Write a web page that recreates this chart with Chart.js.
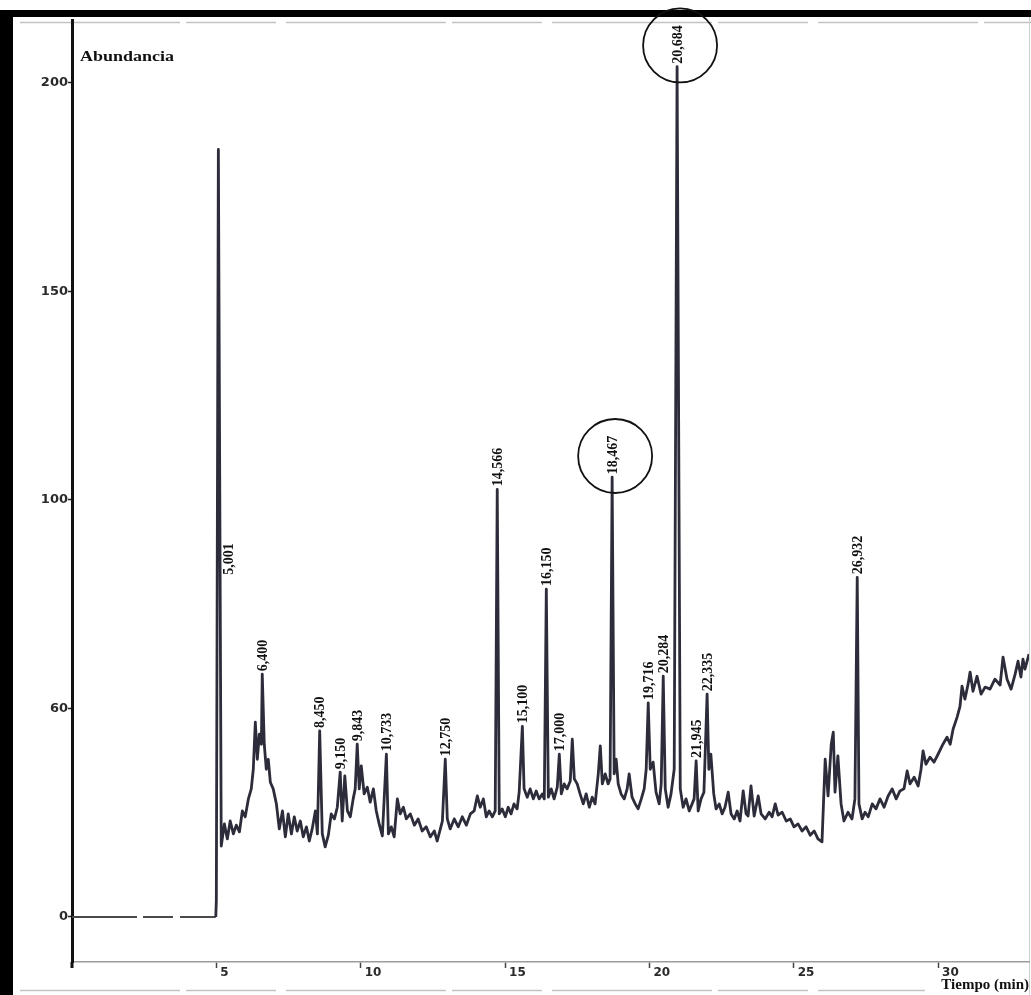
<!DOCTYPE html>
<html>
<head>
<meta charset="utf-8">
<title>Cromatograma</title>
<script src="https://cdn.jsdelivr.net/npm/chart.js@4.4.1/dist/chart.umd.min.js"></script>
<style>
    html, body { margin: 0; padding: 0; background: #fff; }
    canvas { display: block; }
</style>
</head>
<body>
<canvas id="crom" width="1031" height="995"></canvas>
<script>
const retTime = [
    0, 4.98, 5.00, 5.07, 5.17, 5.28, 5.38, 5.48, 5.59, 5.69,
    5.80, 5.90, 6.00, 6.11, 6.21, 6.28, 6.35, 6.42, 6.49, 6.56,
    6.59, 6.66, 6.73, 6.80, 6.87, 6.97, 7.08, 7.18, 7.29, 7.39,
    7.49, 7.60, 7.70, 7.80, 7.91, 8.01, 8.12, 8.22, 8.32, 8.43,
    8.50, 8.58, 8.67, 8.77, 8.88, 8.98, 9.09, 9.19, 9.29, 9.36,
    9.45, 9.54, 9.64, 9.74, 9.81, 9.88, 9.95, 10.02, 10.12, 10.23,
    10.33, 10.44, 10.54, 10.64, 10.75, 10.89, 10.96, 11.06, 11.16, 11.27,
    11.37, 11.48, 11.58, 11.72, 11.86, 11.99, 12.13, 12.27, 12.41, 12.55,
    12.65, 12.76, 12.83, 12.93, 13.00, 13.10, 13.24, 13.38, 13.52, 13.66,
    13.80, 13.93, 14.04, 14.14, 14.25, 14.35, 14.45, 14.56, 14.66, 14.73,
    14.80, 14.90, 15.01, 15.11, 15.21, 15.31, 15.42, 15.49, 15.60, 15.66,
    15.77, 15.87, 15.98, 16.08, 16.18, 16.29, 16.36, 16.43, 16.50, 16.60,
    16.70, 16.81, 16.88, 16.95, 17.05, 17.15, 17.26, 17.33, 17.40, 17.50,
    17.60, 17.71, 17.81, 17.92, 18.02, 18.12, 18.23, 18.30, 18.37, 18.47,
    18.57, 18.64, 18.71, 18.78, 18.85, 18.92, 19.02, 19.13, 19.23, 19.30,
    19.40, 19.51, 19.61, 19.72, 19.82, 19.89, 19.96, 20.03, 20.13, 20.23,
    20.34, 20.41, 20.48, 20.55, 20.65, 20.75, 20.86, 20.96, 21.07, 21.17,
    21.27, 21.38, 21.48, 21.55, 21.62, 21.69, 21.79, 21.89, 22.00, 22.06,
    22.13, 22.23, 22.31, 22.42, 22.52, 22.62, 22.73, 22.83, 22.94, 23.04,
    23.14, 23.25, 23.35, 23.42, 23.52, 23.63, 23.77, 23.87, 24.01, 24.15,
    24.25, 24.36, 24.46, 24.60, 24.74, 24.88, 25.01, 25.15, 25.29, 25.43,
    25.57, 25.71, 25.84, 25.98, 26.09, 26.19, 26.30, 26.37, 26.43, 26.53,
    26.64, 26.74, 26.88, 27.02, 27.12, 27.20, 27.26, 27.37, 27.47, 27.58,
    27.72, 27.85, 27.99, 28.13, 28.27, 28.41, 28.55, 28.68, 28.82, 28.93,
    29.03, 29.17, 29.31, 29.41, 29.48, 29.58, 29.72, 29.86, 30.00, 30.17,
    30.31, 30.42, 30.52, 30.66, 30.76, 30.83, 30.93, 31.04, 31.11, 31.21,
    31.35, 31.49, 31.63, 31.80, 31.97, 32.15, 32.25, 32.39, 32.53, 32.67,
    32.77, 32.87, 32.94, 33.01, 33.15
];

// Abundancia en cada tiempo
const abundance = [
    0, 0, 4, 184, 17.0, 22.3, 18.7, 23.0, 19.9, 22.0,
    20.4, 25.4, 24.0, 28.3, 30.7, 35.4, 46.7, 37.8, 43.8, 41.4,
    58.2, 41.4, 35.4, 37.8, 32.3, 30.7, 27.1, 21.1, 25.4, 19.2,
    24.7, 19.9, 24.0, 20.6, 23.0, 19.2, 21.6, 18.2, 21.1, 25.4,
    19.9, 44.6, 19.9, 16.8, 19.6, 24.7, 23.5, 26.3, 34.7, 23.0,
    33.8, 25.4, 24.0, 28.3, 30.7, 41.4, 30.7, 36.2, 29.5, 31.1,
    27.5, 30.7, 25.4, 22.3, 19.4, 39.0, 19.9, 21.6, 19.2, 28.3,
    24.7, 26.3, 23.5, 24.7, 22.0, 23.5, 20.6, 21.6, 19.2, 20.6,
    18.2, 21.1, 23.0, 37.8, 23.5, 21.1, 23.5, 21.6, 24.0, 22.0,
    24.7, 25.4, 29.0, 26.3, 28.3, 24.0, 25.4, 24.0, 25.4, 102.5,
    24.7, 25.9, 24.0, 26.3, 24.7, 27.1, 25.9, 29.9, 45.7, 30.7,
    28.7, 30.7, 28.3, 30.2, 28.3, 29.5, 28.3, 78.6, 28.7, 30.7,
    28.3, 31.1, 39.0, 29.5, 31.9, 30.7, 32.6, 42.6, 33.1, 31.9,
    29.5, 27.1, 29.5, 26.3, 28.7, 27.1, 34.3, 41.0, 31.9, 34.3,
    31.9, 33.1, 105.4, 34.3, 37.8, 31.9, 29.5, 28.3, 30.7, 34.3,
    28.7, 27.1, 25.9, 28.3, 30.7, 35.4, 51.3, 35.4, 37.1, 29.9,
    27.1, 31.9, 57.7, 30.7, 26.3, 29.5, 35.4, 203.8, 30.7, 26.3,
    28.3, 25.4, 27.1, 28.3, 37.4, 25.4, 28.3, 29.9, 53.4, 35.4,
    39.0, 29.5, 25.9, 27.1, 24.7, 26.3, 29.9, 24.7, 23.5, 25.4,
    23.0, 30.2, 24.7, 24.2, 31.4, 24.2, 29.0, 24.7, 23.5, 25.1,
    24.0, 27.1, 24.4, 25.1, 23.0, 23.5, 21.6, 22.3, 20.6, 21.6,
    19.6, 20.6, 18.7, 18.0, 37.8, 29.0, 41.4, 44.3, 29.9, 38.6,
    27.1, 23.0, 25.1, 23.5, 28.3, 81.4, 27.1, 23.5, 25.1, 24.0,
    27.1, 25.9, 28.3, 26.3, 29.0, 30.7, 28.3, 30.2, 30.7, 35.0,
    31.9, 33.5, 31.4, 35.4, 39.8, 36.6, 38.3, 37.1, 39.0, 41.4,
    43.1, 41.4, 45.0, 47.9, 50.5, 55.3, 52.2, 55.8, 58.7, 54.1,
    57.7, 53.4, 55.1, 54.6, 57.0, 55.6, 62.3, 57.0, 54.6, 58.2,
    61.3, 57.5, 61.8, 59.4, 63.0
];

// picos rotulados (tiempo en el eje y su etiqueta)
const peakTimes = [5.07, 6.59, 8.58, 9.29, 9.88, 10.89, 12.93, 14.73, 15.60,
    16.43, 16.88, 18.71, 19.96, 20.48, 20.96, 21.62, 22.00, 27.20];
const peakLabels = ['5,001', '6,400', '8,450', '9,150', '9,843', '10,733', '12,750', '14,566', '15,100',
    '16,150', '17,000', '18,467', '19,716', '20,284', '20,684', '21,945', '22,335', '26,932'];
const circledPeaks = ['18,467', '20,684'];

const yTicks = [0, 50, 100, 150, 200];
const yTickLabels = ['0', '60', '100', '150', '200'];
const xTicks = [5, 10, 15, 20, 25, 30];
const xTickLabels = ['5', '10', '15', '20', '25', '30'];

const points = retTime.map((t, i) => ({ x: t, y: abundance[i] }));

// marco negro del escaneo y lineas grises del papel
const framePlugin = {
    id: 'marco',
    beforeDraw(chart) {
        const ctx = chart.ctx;
        ctx.save();
        ctx.fillStyle = '#fff';
        ctx.fillRect(0, 0, chart.width, chart.height);
        ctx.strokeStyle = '#c2c2c2';
        ctx.lineWidth = 1.5;
        ctx.setLineDash([160, 6, 90, 10]);
        ctx.beginPath();
        ctx.moveTo(20, 22.5);
        ctx.lineTo(chart.width, 22.5);
        ctx.stroke();
        ctx.beginPath();
        ctx.moveTo(20, 990.5);
        ctx.lineTo(925, 990.5);
        ctx.stroke();
        ctx.setLineDash([]);
        ctx.strokeStyle = '#d0d0d0';
        ctx.lineWidth = 1;
        ctx.beginPath();
        ctx.moveTo(1029.5, 17);
        ctx.lineTo(1029.5, 995);
        ctx.stroke();
        ctx.fillStyle = '#000';
        ctx.fillRect(0, 10, 13, chart.height - 10);
        ctx.fillRect(0, 10, chart.width, 7);
        ctx.restore();
    }
};

// etiquetas verticales de los picos, circulos y titulo del eje y
const labelPlugin = {
    id: 'etiquetas',
    afterDatasetsDraw(chart) {
        const { ctx, chartArea, scales: { x, y } } = chart;
        ctx.save();
        ctx.strokeStyle = '#111';
        ctx.lineWidth = 3;
        ctx.beginPath();
        ctx.moveTo(chartArea.left, chartArea.bottom);
        ctx.lineTo(chartArea.left, chartArea.bottom + 6);
        ctx.stroke();

        ctx.fillStyle = '#111';
        ctx.font = 'bold 14px "Liberation Serif"';
        ctx.textBaseline = 'middle';
        ctx.textAlign = 'left';
        ctx.lineWidth = 1.8;
        peakTimes.forEach((t, k) => {
            const label = peakLabels[k];
            const top = abundance[retTime.indexOf(t)];
            let px = x.getPixelForValue(t);
            let py = y.getPixelForValue(top) - 3;
            if (label === '5,001') {
                px += 10;
                py = y.getPixelForValue(82);
            }
            ctx.save();
            ctx.translate(px + 1, py);
            ctx.rotate(-Math.PI / 2);
            ctx.fillText(label, 0, 0);
            ctx.restore();
            if (circledPeaks.includes(label)) {
                const w = ctx.measureText(label).width;
                ctx.beginPath();
                ctx.arc(px + 3, py - w / 2 + 1, 37, 0, Math.PI * 2);
                ctx.stroke();
            }
        });

        ctx.font = 'bold 15px "Liberation Serif"';
        ctx.textBaseline = 'alphabetic';
        ctx.translate(chartArea.left + 8, 61);
        ctx.scale(1.2, 1);
        ctx.fillText('Abundancia', 0, 0);
        ctx.restore();
    }
};

const chart = new Chart(document.getElementById('crom'), {
    type: 'line',
    data: {
        datasets: [{
            data: points,
            borderColor: '#2c2c3a',
            borderWidth: 2.8,
            borderJoinStyle: 'round',
            pointRadius: 0,
            tension: 0,
            segment: {
                borderColor: c => c.p1DataIndex <= 1 ? '#4a4a4a' : undefined,
                borderDash: c => c.p1DataIndex <= 1 ? [65, 6, 30, 7] : undefined,
                borderWidth: c => c.p1DataIndex <= 1 ? 2 : undefined
            }
        }]
    },
    options: {
        responsive: false,
        animation: false,
        devicePixelRatio: 1,
        layout: { padding: { top: 20, right: 2, left: 0, bottom: 0 } },
        plugins: {
            legend: { display: false },
            tooltip: { enabled: false }
        },
        scales: {
            x: {
                type: 'linear',
                min: 0,
                max: 33.15,
                afterBuildTicks: s => { s.ticks = xTicks.map(v => ({ value: v })); },
                afterFit: s => { s.height = 33; },
                grid: { drawOnChartArea: false, drawTicks: true, tickLength: 6, tickColor: '#444', tickWidth: 1.5 },
                border: { color: '#9c9c9c', width: 1.5, dash: [120, 8] },
                ticks: {
                    align: 'start',
                    labelOffset: 4,
                    padding: -2,
                    maxRotation: 0,
                    autoSkip: false,
                    color: '#2a2a2a',
                    font: { family: 'DejaVu Sans', weight: 'bold', size: 12 },
                    callback: (v, i) => xTickLabels[i]
                },
                title: {
                    display: true,
                    text: 'Tiempo (min)',
                    align: 'end',
                    color: '#111',
                    font: { family: 'Liberation Serif', weight: 'bold', size: 15 },
                    padding: { top: 0, bottom: 1 }
                }
            },
            y: {
                type: 'linear',
                min: -10.8,
                max: 215,
                afterBuildTicks: s => { s.ticks = yTicks.map(v => ({ value: v })); },
                afterFit: s => { s.width = 72; },
                grid: { drawOnChartArea: false, drawTicks: true, tickLength: 4, tickColor: '#222', tickWidth: 1.5 },
                border: { color: '#111', width: 3 },
                ticks: {
                    padding: 0,
                    color: '#2a2a2a',
                    font: { family: 'DejaVu Sans', weight: 'bold', size: 13 },
                    callback: (v, i) => yTickLabels[i]
                }
            }
        }
    },
    plugins: [framePlugin, labelPlugin]
});
</script>
</body>
</html>
